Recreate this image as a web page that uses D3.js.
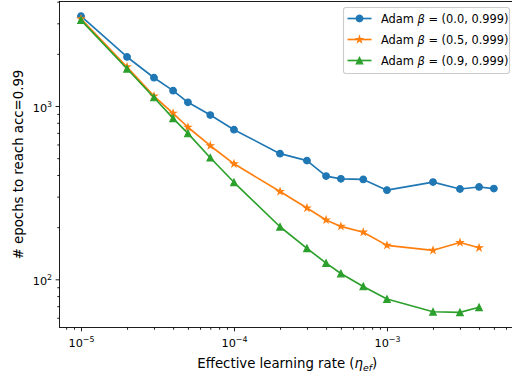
<!DOCTYPE html>
<html>
<head>
<meta charset="utf-8">
<script src="https://cdn.jsdelivr.net/npm/d3@7"></script>
<style>
  html, body { margin: 0; padding: 0; background: #ffffff; }
  svg text { font-family: "DejaVu Sans", sans-serif; fill: #000; }
</style>
</head>
<body>
<svg id="chart" width="512" height="377"></svg>
<script>
// Effective learning rates tried
const learningRates = [1e-5, 2e-5, 3e-5, 4e-5, 5e-5, 7e-5, 1e-4, 2e-4, 3e-4, 4e-4, 5e-4, 7e-4, 1e-3, 2e-3, 3e-3, 4e-3, 5e-3];

// Epochs needed to reach 0.99 accuracy, per beta setting
const epochsBeta00 = [3300, 1918, 1456, 1226, 1050, 887, 730, 531, 484, 394, 380, 377, 327, 364, 332, 341, 334];
const epochsBeta05 = [3180, 1680, 1140, 908, 754, 590, 464, 321, 258, 220, 202, 187, 157, 147, 163, 152];
const epochsBeta09 = [3130, 1640, 1120, 849, 695, 503, 363, 201, 151, 124, 108, 91, 77, 65, 64.5, 69];

const seriesLabels = ["(0.0, 0.999)", "(0.5, 0.999)", "(0.9, 0.999)"];

const xMajorTicks = [1e-5, 1e-4, 1e-3];
const xTickExponents = ["\u22125", "\u22124", "\u22123"];
const yMajorTicks = [1e2, 1e3];
const yTickExponents = ["2", "3"];

const pt = 1.11; // points to pixels

const svg = d3.select("#chart");
const W = 512, H = 377;
svg.append("rect").attr("width", W).attr("height", H).attr("fill", "#fff");

const plot = { left: 59.5, right: 515, top: 1.5, bottom: 327.5 };

const x = d3.scaleLog()
  .domain([Math.pow(10, -5.1405), Math.pow(10, -2.163)])
  .range([plot.left, plot.right]);
const y = d3.scaleLog()
  .domain([Math.pow(10, 1.722), Math.pow(10, 3.603)])
  .range([plot.bottom, plot.top]);

// minor tick positions (2..9 within each decade)
function minorTicks(scale) {
  const [a, b] = scale.domain();
  const out = [];
  for (let e = Math.floor(Math.log10(a)); e <= Math.ceil(Math.log10(b)); e++) {
    for (let m = 2; m <= 9; m++) {
      const v = m * Math.pow(10, e);
      if (v >= a && v <= b) out.push(v);
    }
  }
  return out;
}

// ---- axes ----
const xMinor = svg.append("g").attr("transform", `translate(0,${plot.bottom})`)
  .call(d3.axisBottom(x).tickValues(minorTicks(x)).tickFormat("").tickSizeInner(2 * pt).tickSizeOuter(0));
const xMajor = svg.append("g").attr("transform", `translate(0,${plot.bottom})`)
  .call(d3.axisBottom(x).tickValues(xMajorTicks).tickFormat("").tickSizeInner(3.5 * pt).tickSizeOuter(0).tickPadding(3.5 * pt));
const yMinor = svg.append("g").attr("transform", `translate(${plot.left},0)`)
  .call(d3.axisLeft(y).tickValues(minorTicks(y)).tickFormat("").tickSizeInner(2 * pt).tickSizeOuter(0));
const yMajor = svg.append("g").attr("transform", `translate(${plot.left},0)`)
  .call(d3.axisLeft(y).tickValues(yMajorTicks).tickFormat("").tickSizeInner(3.5 * pt).tickSizeOuter(0).tickPadding(3.5 * pt));

[xMinor, xMajor, yMinor, yMajor].forEach(g => {
  g.select(".domain").remove();
  g.selectAll(".tick line").attr("stroke", "#000").attr("stroke-width", 0.8 * pt);
  g.selectAll(".tick text").remove();
});

// power-of-ten tick labels
xMajor.selectAll(".tick").each(function(d, i) {
  const t = d3.select(this).append("text")
    .attr("x", 0).attr("y", 19.5)
    .attr("text-anchor", "middle")
    .attr("font-size", 11.3);
  t.append("tspan").text("10");
  t.append("tspan").attr("dy", -4.6).attr("font-size", 7.9).text(xTickExponents[i]);
});
yMajor.selectAll(".tick").each(function(d, i) {
  const t = d3.select(this).append("text")
    .attr("x", -7.4).attr("y", 5)
    .attr("text-anchor", "end")
    .attr("font-size", 11.3);
  t.append("tspan").text("10");
  t.append("tspan").attr("dy", -4.6).attr("font-size", 7.9).text(yTickExponents[i]);
});

// ---- series ----
const colors = ["#1f77b4", "#ff7f0e", "#2ca02c"];
const allSeries = [epochsBeta00, epochsBeta05, epochsBeta09];

const ms = 6 * pt; // marker size
function markerPath(kind) {
  const r = ms / 2;
  if (kind === "circle") {
    return d3.symbol(d3.symbolCircle, Math.PI * r * r)();
  }
  if (kind === "star") {
    const inner = r * 0.381966;
    const pts = [];
    for (let k = 0; k < 10; k++) {
      const ang = -Math.PI / 2 + k * Math.PI / 5;
      const rad = k % 2 === 0 ? r : inner;
      pts.push([rad * Math.cos(ang), rad * Math.sin(ang)]);
    }
    return "M" + pts.map(p => p.join(",")).join("L") + "Z";
  }
  return `M0,${-r}L${-r},${r}L${r},${r}Z`;
}
const markerKinds = ["circle", "star", "triangle"];

const line = d3.line().x(d => x(d[0])).y(d => y(d[1]));

allSeries.forEach((vals, s) => {
  const pts = vals.map((v, i) => [learningRates[i], v]);
  const g = svg.append("g");
  g.append("path")
    .attr("d", line(pts))
    .attr("fill", "none")
    .attr("stroke", colors[s])
    .attr("stroke-width", 1.5 * pt)
    .attr("stroke-linejoin", "round");
  g.selectAll("path.mk").data(pts).enter().append("path")
    .attr("class", "mk")
    .attr("d", markerPath(markerKinds[s]))
    .attr("transform", d => `translate(${x(d[0])},${y(d[1])})`)
    .attr("fill", colors[s])
    .attr("stroke", colors[s])
    .attr("stroke-width", 1 * pt)
    .attr("stroke-linejoin", "miter");
});

// ---- frame ----
svg.append("rect")
  .attr("x", plot.left).attr("y", plot.top)
  .attr("width", plot.right - plot.left).attr("height", plot.bottom - plot.top)
  .attr("fill", "none").attr("stroke", "#000").attr("stroke-width", 0.8 * pt);

// ---- axis labels ----
const xl = svg.append("text")
  .attr("x", (plot.left + plot.right) / 2).attr("y", 368)
  .attr("text-anchor", "middle").attr("font-size", 13.3);
xl.append("tspan").text("Effective learning rate (");
xl.append("tspan").attr("font-style", "italic").text("\u03B7");
xl.append("tspan").attr("font-style", "italic").attr("font-size", 9.3).attr("dy", 2.5).text("ef");
xl.append("tspan").attr("dy", -2.5).text(")");

svg.append("text")
  .attr("transform", `translate(22.5,${(plot.top + plot.bottom) / 2}) rotate(-90)`)
  .attr("text-anchor", "middle").attr("font-size", 13.3)
  .text("# epochs to reach acc=0.99");

// ---- legend ----
const lg = svg.append("g");
lg.append("rect")
  .attr("x", 343.5).attr("y", 7.5).attr("width", 166).attr("height", 66)
  .attr("rx", 2.5).attr("ry", 2.5)
  .attr("fill", "#fff").attr("fill-opacity", 0.8)
  .attr("stroke", "#cccccc").attr("stroke-width", 1 * pt);

seriesLabels.forEach((lab, s) => {
  const cy = 18.5 + s * 21;
  lg.append("line")
    .attr("x1", 347.5).attr("x2", 371.5).attr("y1", cy).attr("y2", cy)
    .attr("stroke", colors[s]).attr("stroke-width", 1.5 * pt);
  lg.append("path")
    .attr("d", markerPath(markerKinds[s]))
    .attr("transform", `translate(359.5,${cy})`)
    .attr("fill", colors[s]).attr("stroke", colors[s]).attr("stroke-width", 1 * pt);
  const t = lg.append("text").attr("x", 381).attr("y", cy + 4).attr("font-size", 11.4);
  t.append("tspan").text("Adam ");
  t.append("tspan").attr("font-style", "italic").text("\u03B2");
  t.append("tspan").text(" = " + lab);
});
</script>
</body>
</html>
